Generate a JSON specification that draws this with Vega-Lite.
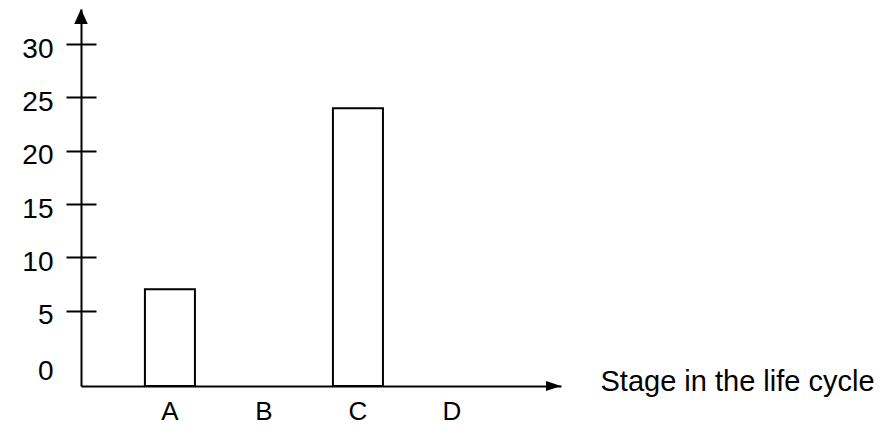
{
  "$schema": "https://vega.github.io/schema/vega-lite/v6.json",
  "width": 480,
  "height": 377,
  "autosize": {"type": "none"},
  "padding": {"left": 81, "top": 9, "right": 331, "bottom": 40},
  "background": "white",
  "config": {"view": {"stroke": null}, "font": "Liberation Sans"},
  "data": {"values": [
    {"stage": "A", "value": 7},
    {"stage": "B", "value": 0},
    {"stage": "C", "value": 24},
    {"stage": "D", "value": 0}
  ]},
  "layer": [
    {
      "transform": [{"filter": "datum.value > 0"}],
      "mark": {"type": "bar", "fill": "white", "stroke": "black", "strokeWidth": 2},
      "encoding": {
        "x": {
          "field": "stage", "type": "nominal",
          "scale": {"domain": ["A", "B", "C", "D"], "paddingInner": 0.468, "paddingOuter": 0.787, "align": 0.432},
          "axis": {
            "title": "Stage in the life cycle",
            "titleX": 519, "titleY": 4, "titleAlign": "left", "titleBaseline": "alphabetic",
            "titleFontSize": 29, "titleFontWeight": "normal", "titleFont": "Liberation Sans", "titleColor": "black",
            "labelAngle": 0, "labelFontSize": 26, "labelColor": "black", "labelPadding": 12, "labelFont": "Liberation Sans",
            "ticks": false, "domainColor": "black", "domainWidth": 2, "grid": false
          }
        },
        "y": {
          "field": "value", "type": "quantitative",
          "scale": {"domain": [-2.07, 33.3], "nice": false, "zero": false},
          "axis": {
            "title": null,
            "values": [0, 5, 10, 15, 20, 25, 30],
            "grid": true, "gridColor": "black", "gridWidth": 2, "gridDash": [15, 3000],
            "gridOpacity": {"condition": {"test": "datum.value == 0", "value": 0}, "value": 1},
            "tickSize": 15, "tickWidth": 2, "tickColor": "black",
            "tickOpacity": {"condition": {"test": "datum.value == 0", "value": 0}, "value": 1},
            "labelFontSize": 28, "labelColor": "black", "labelPadding": 13, "labelFont": "Liberation Sans",
            "labelOffset": {"condition": {"test": "datum.value == 0", "value": 8}, "value": 5},
            "domainColor": "black", "domainWidth": 2
          }
        },
        "y2": {"datum": -2.07}
      }
    },
    {
      "transform": [{"filter": "datum.stage == 'A'"}],
      "mark": {"type": "point", "shape": "M0,0L-0.45,1L0.45,1Z", "filled": true, "color": "black", "size": 900, "opacity": 1},
      "encoding": {
        "x": {"datum": 0, "type": "quantitative", "scale": {"domain": [0, 1]}, "axis": null},
        "y": {"datum": 33.3, "type": "quantitative"}
      }
    },
    {
      "transform": [{"filter": "datum.stage == 'A'"}],
      "mark": {"type": "point", "shape": "M0,0L-1,-0.33L-1,0.33Z", "filled": true, "color": "black", "size": 900, "opacity": 1},
      "encoding": {
        "x": {"datum": 1, "type": "quantitative", "scale": {"domain": [0, 1]}, "axis": null},
        "y": {"datum": -2.07, "type": "quantitative"}
      }
    }
  ],
  "resolve": {"scale": {"x": "independent"}}
}
